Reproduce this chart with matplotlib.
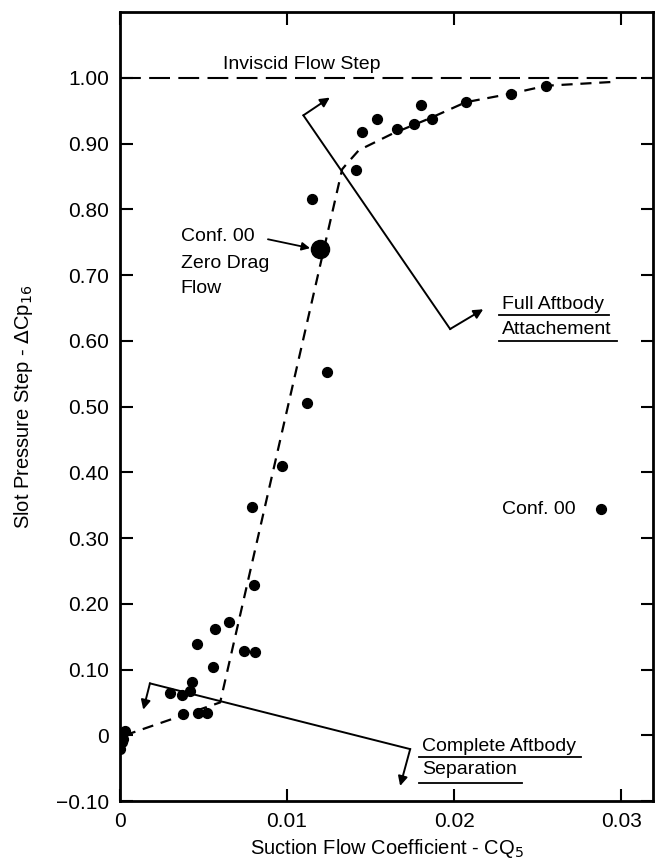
import matplotlib
matplotlib.use("Agg")
import matplotlib.pyplot as plt

plt.rcParams['font.family'] = ['Liberation Sans', 'DejaVu Sans']

# test points, conf. 00
cq = [0.0003, 0.0002, 0.0001, 0.0000,
      0.0030, 0.0037, 0.0042, 0.0043,
      0.0038, 0.0047, 0.0052,
      0.0046, 0.0056, 0.0057, 0.0065,
      0.0074, 0.0081, 0.0080, 0.0079,
      0.0097, 0.0112, 0.0124, 0.0115,
      0.0141, 0.0145, 0.0154, 0.0166,
      0.0176, 0.0180, 0.0187, 0.0207,
      0.0234, 0.0255]
dcp = [0.007, -0.005, -0.010, -0.021,
       0.065, 0.061, 0.067, 0.081,
       0.033, 0.034, 0.034,
       0.139, 0.104, 0.162, 0.173,
       0.128, 0.127, 0.229, 0.347,
       0.409, 0.506, 0.552, 0.816,
       0.860, 0.918, 0.938, 0.922,
       0.930, 0.958, 0.937, 0.963,
       0.976, 0.988]

# zero drag flow point
zero_drag_cq = 0.0120
zero_drag_dcp = 0.739

# faired curve through the data
fair_cq = [0.0003, 0.0060, 0.0133, 0.0136, 0.0143, 0.0163, 0.0185, 0.0207, 0.0234, 0.0255, 0.0296]
fair_dcp = [0.000, 0.050, 0.861, 0.870, 0.890, 0.915, 0.938, 0.963, 0.976, 0.988, 0.994]

inviscid_step = 1.00

yticks = [-0.10, 0.0, 0.10, 0.20, 0.30, 0.40, 0.50, 0.60, 0.70, 0.80, 0.90, 1.00]
ytick_labels = ['\u22120.10', '0', '0.10', '0.20', '0.30', '0.40', '0.50',
                '0.60', '0.70', '0.80', '0.90', '1.00']
xticks = [0.0, 0.01, 0.02, 0.03]
xtick_labels = ['0', '0.01', '0.02', '0.03']

# bracket marks: arrow tip, corner, corner, arrow tip
attach_bracket = [(0.01256, 0.970), (0.01098, 0.943), (0.01976, 0.618), (0.02174, 0.648)]
sep_bracket = [(0.00140, 0.039), (0.00180, 0.079), (0.01737, -0.021), (0.01677, -0.077)]

fig = plt.figure(figsize=(6.55, 8.66), dpi=100)
ax = fig.add_axes([0.183, 0.075, 0.814, 0.911])

ax.set_xlim(0, 0.0319)
ax.set_ylim(-0.10, 1.10)

ax.axhline(inviscid_step, color='k', lw=1.5, ls=(0, (10, 4)))
ax.text(0.0109, 1.0136, 'Inviscid Flow Step', ha='center', va='baseline', fontsize=14)

ax.plot(fair_cq, fair_dcp, color='k', lw=1.6, ls=(0, (5, 3.5)))

pts = ax.scatter(cq, dcp, s=50, color='k', zorder=3)
ax.scatter([zero_drag_cq], [zero_drag_dcp], s=170, color='k', zorder=3)


def bracket(p):
    (t1, c1, c2, t2) = p
    ax.plot([c1[0], c2[0]], [c1[1], c2[1]], color='k', lw=1.4)
    for tip, corner in ((t1, c1), (t2, c2)):
        ax.annotate('', xy=tip, xytext=corner,
                    arrowprops=dict(arrowstyle='-|>', color='k', lw=1.4,
                                    mutation_scale=14, shrinkA=0, shrinkB=0))


bracket(attach_bracket)
bracket(sep_bracket)

# labels with underlines
fig.canvas.draw()
renderer = fig.canvas.get_renderer()


def underlined(x, y, s, drop):
    t = ax.text(x, y, s, ha='left', va='baseline', fontsize=14)
    bb = t.get_window_extent(renderer).transformed(ax.transData.inverted())
    ax.plot([bb.x0 - 0.0002, bb.x1 + 0.0003], [y - drop, y - drop], color='k', lw=1.3)


underlined(0.02287, 0.6485, 'Full Aftbody', 0.009)
underlined(0.02287, 0.6106, 'Attachement', 0.011)
underlined(0.0181, -0.0242, 'Complete Aftbody', 0.009)
underlined(0.0181, -0.0590, 'Separation', 0.013)

for y, s in zip([0.7515, 0.7106, 0.673], ['Conf. 00', 'Zero Drag', 'Flow']):
    ax.text(0.00365, y, s, ha='left', va='baseline', fontsize=14)
ax.annotate('', xy=(0.01138, 0.741), xytext=(0.00886, 0.7545),
            arrowprops=dict(arrowstyle='-|>', color='k', lw=1.3,
                            mutation_scale=12, shrinkA=0, shrinkB=0))

ax.legend([pts], ['Conf. 00'], markerfirst=False, frameon=False, fontsize=14,
          loc='center right', bbox_to_anchor=(0.972, 0.37), handletextpad=0.3)

ax.set_xticks(xticks)
ax.set_xticklabels(xtick_labels)
ax.set_yticks(yticks)
ax.set_yticklabels(ytick_labels)
ax.tick_params(direction='in', length=9, width=1.5, top=True, right=True,
               labelsize=15, pad=8)
for sp in ax.spines.values():
    sp.set_linewidth(2)

ax.set_xlabel('Suction Flow Coefficient - CQ$_5$', fontsize=14.5, labelpad=4)
ax.set_ylabel('Slot Pressure Step - $\\Delta$Cp$_{16}$', fontsize=14.5, labelpad=4)
ax.yaxis.set_label_coords(-0.16, 0.5)

fig.savefig('out.png', dpi=100)
